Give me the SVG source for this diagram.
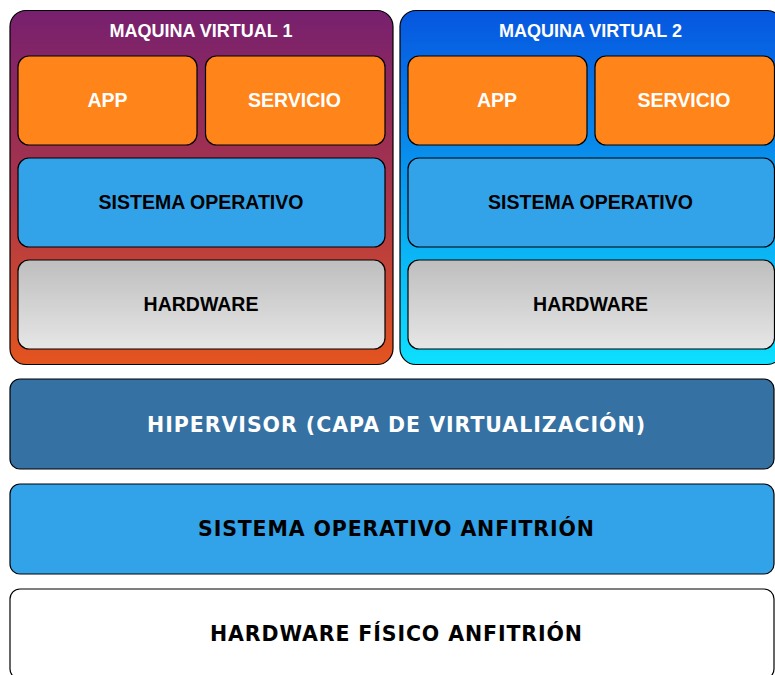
<svg xmlns="http://www.w3.org/2000/svg" width="775" height="675" viewBox="0 0 775 675">
  <defs>
    <linearGradient id="gradVm1" x1="0" y1="0" x2="0" y2="1">
      <stop offset="0" stop-color="#77206F"/>
      <stop offset="0.5" stop-color="#A8344A"/>
      <stop offset="1" stop-color="#E4541F"/>
    </linearGradient>
    <linearGradient id="gradVm2" x1="0" y1="0" x2="0" y2="1">
      <stop offset="0" stop-color="#0656DF"/>
      <stop offset="1" stop-color="#0DE0FF"/>
    </linearGradient>
    <linearGradient id="gradHw" x1="0" y1="0" x2="0" y2="1">
      <stop offset="0" stop-color="#BEBEBE"/>
      <stop offset="1" stop-color="#E6E6E6"/>
    </linearGradient>
    <style>
      .box { stroke: #000; stroke-width: 1.2; }
      .vm1 { fill: url(#gradVm1); }
      .vm2 { fill: url(#gradVm2); }
      .app { fill: #FF8419; }
      .os { fill: #33A3E9; }
      .hw { fill: url(#gradHw); }
      .hyp { fill: #3571A2; }
      .host { fill: #FFFFFF; }
      .lbl { font-family: "Liberation Sans", Arial, sans-serif; font-weight: bold; text-anchor: middle; font-size: 19.5px; }
      .title { font-size: 18px; }
      .big { font-family: "DejaVu Sans", Verdana, sans-serif; font-weight: bold; text-anchor: middle; font-size: 20.5px; }
      .w { fill: #FFFFFF; }
      .k { fill: #000000; }
    </style>
  </defs>

  <rect width="775" height="675" fill="#FFFFFF"/>

  <!-- Virtual machine 1 -->
  <g id="vm1">
    <rect class="box vm1" x="10" y="10.5" width="383" height="354" rx="16"/>
    <text class="lbl title w" x="201" y="36.5">MAQUINA VIRTUAL 1</text>
  </g>
  <g id="vm1-app">
    <rect class="box app" x="18" y="56" width="179" height="89" rx="11"/>
    <text class="lbl w" x="107.5" y="107">APP</text>
  </g>
  <g id="vm1-servicio">
    <rect class="box app" x="205.5" y="56" width="179.5" height="89" rx="11"/>
    <text class="lbl w" x="294.5" y="107">SERVICIO</text>
  </g>
  <g id="vm1-so">
    <rect class="box os" x="18" y="158" width="367" height="89" rx="11"/>
    <text class="lbl k" x="201" y="209">SISTEMA OPERATIVO</text>
  </g>
  <g id="vm1-hw">
    <rect class="box hw" x="18" y="260" width="367" height="89" rx="11"/>
    <text class="lbl k" x="201" y="311">HARDWARE</text>
  </g>

  <!-- Virtual machine 2 -->
  <g id="vm2">
    <rect class="box vm2" x="400" y="10.5" width="383" height="354" rx="16"/>
    <text class="lbl title w" x="590.5" y="36.5">MAQUINA VIRTUAL 2</text>
  </g>
  <g id="vm2-app">
    <rect class="box app" x="408" y="56" width="179" height="89" rx="11"/>
    <text class="lbl w" x="497" y="107">APP</text>
  </g>
  <g id="vm2-servicio">
    <rect class="box app" x="595" y="56" width="179.5" height="89" rx="11"/>
    <text class="lbl w" x="684" y="107">SERVICIO</text>
  </g>
  <g id="vm2-so">
    <rect class="box os" x="408" y="158" width="366.5" height="89" rx="11"/>
    <text class="lbl k" x="590.5" y="209">SISTEMA OPERATIVO</text>
  </g>
  <g id="vm2-hw">
    <rect class="box hw" x="408" y="260" width="366.5" height="89" rx="11"/>
    <text class="lbl k" x="590.5" y="311">HARDWARE</text>
  </g>

  <!-- Host layers -->
  <g id="hipervisor">
    <rect class="box hyp" x="10" y="379" width="764" height="90" rx="10"/>
    <text class="big w" x="396" y="431.5" textLength="498" lengthAdjust="spacing">HIPERVISOR (CAPA DE VIRTUALIZACIÓN)</text>
  </g>
  <g id="so-anfitrion">
    <rect class="box os" x="10" y="484" width="764" height="90" rx="10"/>
    <text class="big k" x="396" y="536" textLength="396" lengthAdjust="spacing">SISTEMA OPERATIVO ANFITRIÓN</text>
  </g>
  <g id="hw-anfitrion">
    <rect class="box host" x="10" y="589" width="764" height="90" rx="10"/>
    <text class="big k" x="396" y="641" textLength="372" lengthAdjust="spacing">HARDWARE FÍSICO ANFITRIÓN</text>
  </g>

  <g id="connectors"/>
</svg>
